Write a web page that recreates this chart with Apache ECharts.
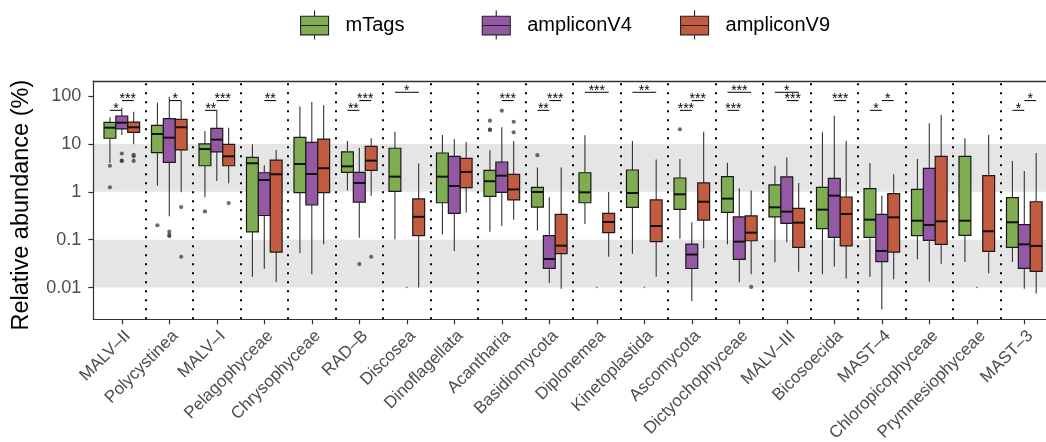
<!DOCTYPE html>
<html><head><meta charset="utf-8">
<script src="https://cdn.jsdelivr.net/npm/echarts@6/dist/echarts.min.js"></script>
<style>html,body{margin:0;padding:0;background:#fff}#c{width:1046px;height:442px}</style>
</head><body><div id="c"></div>
<script>
const categories = ['MALV–II','Polycystinea','MALV–I','Pelagophyceae','Chrysophyceae','RAD–B','Discosea','Dinoflagellata','Acantharia','Basidiomycota','Diplonemea','Kinetoplastida','Ascomycota','Dictyochophyceae','MALV–III','Bicosoecida','MAST–4','Chloropicophyceae','Prymnesiophyceae','MAST–3'];
const seriesNames = ['mTags','ampliconV4','ampliconV9'];
const seriesColors = ['#80ad52','#9558a5','#c25b3f'];
// [lower whisker, Q1, median, Q3, upper whisker] in %
const mTags = [
 [4.0,13.1,21.8,28.2,35.9],[1.34,6.56,16.1,24.4,72.6],[0.77,3.5,7.8,10,18.6],[0.0169,0.145,3.94,5.25,9.8],
 [0.052,0.96,3.8,13.7,60],[1.06,2.55,3.4,6.8,11.5],[0.102,1.02,2.07,8.1,18],[0.129,0.59,2.07,6.45,15.4],
 [0.147,0.80,1.66,2.8,7.35],[0.155,0.48,0.99,1.24,3.2],[0.213,0.59,0.975,2.5,15.1],[0.051,0.474,0.944,2.85,11.5],
 [0.105,0.43,0.885,1.94,4.84],[0.08,0.37,0.72,2.07,4.05],[0.0336,0.298,0.474,1.39,3.5],[0.0189,0.17,0.424,1.24,17.4],
 [0.0169,0.112,0.262,1.16,4.0],[0.0389,0.121,0.249,1.12,4.84],[0.0342,0.123,0.249,5.5,13.1],[0.0342,0.069,0.231,0.755,4.4]
];
const ampliconV4 = [
 [15.4,20.5,27.7,38.2,57],[0.31,4.12,13.5,33.6,96],[1.68,6.8,12.3,21.1,51],[0.0248,0.32,1.76,2.5,3.6],
 [0.0189,0.53,2.35,10.8,75],[0.11,0.61,1.53,2.55,8.3],null,[0.058,0.355,1.32,5.5,12.5],
 [0.193,0.975,2.17,4.19,22.2],[0.0125,0.0252,0.0395,0.121,0.77],null,null,
 [0.0052,0.025,0.049,0.081,0.23],[0.0129,0.0389,0.091,0.298,1.18],[0.088,0.22,0.385,2.04,5.2],[0.0274,0.112,0.83,1.91,38.8],
 [0.0035,0.0348,0.058,0.339,0.83],[0.0133,0.097,0.203,3.09,26.9],null,[0.0095,0.0252,0.08,0.206,2.72]
];
const ampliconV9 = [
 [9.8,17.4,22.2,28.6,47],[0.975,7.47,22.2,32.6,80],[1.5,3.5,5.5,9.8,21.8],[0.0131,0.055,2.32,4.6,7.5],
 [0.08,0.96,3.1,12.6,64],[0.83,2.8,4.47,8.9,13.1],[0.01,0.121,0.30,0.71,3.9],[0.37,1.22,2.6,5.0,11],
 [0.262,0.675,1.12,2.32,11.5],[0.0095,0.051,0.075,0.339,3.2],[0.044,0.14,0.234,0.355,0.99],[0.0169,0.091,0.193,0.675,4.7],
 [0.066,0.257,0.62,1.53,18],[0.0189,0.095,0.14,0.313,1.07],[0.0215,0.069,0.227,0.452,1.53],[0.0154,0.074,0.344,0.778,11.7],
 [0.0149,0.055,0.293,0.914,2.32],[0.0316,0.08,0.242,5.5,40],[0.0199,0.057,0.15,2.17,15.4],[0.0075,0.0219,0.074,0.62,6.45]
];
// outliers: [category index, value %]
const outliersMTags = [[0,3.5],[0,1.24],[1,0.2],[2,0.39],[8,30.5],[8,19.8],[8,19.6],[9,5.8],[12,20.1]];
const outliersV4 = [[0,6.3],[0,4.4],[0,4.5],[1,0.147],[1,0.119],[1,0.126],[5,0.031],[8,49.4]];
const outliersV9 = [[0,5.9],[0,5.5],[0,4.4],[1,0.48],[1,0.044],[2,0.58],[5,0.044],[8,29],[8,17.4],[13,0.0103]];
const tracesV4 = [[6,0.0101],[10,0.0101],[11,0.0101],[18,0.0101]];
// significance: [category, group from, group to, level index, label]
const signif = [
 [0,0,1,0,'*'],[0,1,2,1,'***'],[1,1,2,1,'*'],[2,0,1,0,'**'],[2,1,2,1,'***'],[3,1,2,1,'**'],
 [5,0,1,0,'**'],[5,1,2,1,'***'],[6,0,2,2,'*'],[8,1,2,1,'***'],[9,0,1,0,'**'],[9,1,2,1,'***'],
 [10,0,2,2,'***'],[11,0,2,2,'**'],[12,0,1,0,'***'],[12,1,2,1,'***'],[13,0,1,0,'***'],[13,0,2,2,'***'],
 [14,0,2,2,'*'],[14,1,2,1,'***'],[15,1,2,1,'***'],[16,0,1,0,'*'],[16,1,2,1,'*'],[19,0,1,0,'*'],[19,1,2,1,'*']
];
const bracketLevels = [50.2, 80.1, 119.5];
const yTickValues = [0.01,0.1,1,10,100];
const yTickLabels = ['0.01','0.1','1','10','100'];
const bands = [[0.01,0.1],[1,10]];
const yRange = [0.002177, 205.6];

const L = v => Math.log10(v);
const FONT = '"Liberation Sans", Arial, Helvetica, sans-serif';

function boxSeries(g, data) {
  const color = seriesColors[g];
  return {
    type: 'custom', name: seriesNames[g], z: 3,
    itemStyle: { color: color },
    encode: { x: 0, y: [1,2,3,4,5] },
    data: data.map((d, i) => d ? [i].concat(d.map(L)) : null).filter(Boolean),
    renderItem: function (params, api) {
      const x = api.value(0) + (g - 1) * 0.25;
      const pLo = api.coord([x, api.value(1)]);
      const q1 = api.coord([x, api.value(2)])[1];
      const med = api.coord([x, api.value(3)])[1];
      const q3 = api.coord([x, api.value(4)])[1];
      const hi = api.coord([x, api.value(5)])[1];
      const w = api.size([0.25, 0])[0];
      const cx = pLo[0], lo = pLo[1], left = cx - w / 2;
      return { type: 'group', children: [
        { type: 'line', shape: { x1: cx, y1: hi, x2: cx, y2: q3 }, style: { stroke: '#333', lineWidth: 1.1 } },
        { type: 'line', shape: { x1: cx, y1: q1, x2: cx, y2: lo }, style: { stroke: '#333', lineWidth: 1.1 } },
        { type: 'rect', shape: { x: left, y: q3, width: w, height: q1 - q3 }, style: { fill: color, stroke: '#1a1a1a', lineWidth: 1.2 } },
        { type: 'line', shape: { x1: left, y1: med, x2: left + w, y2: med }, style: { stroke: '#111', lineWidth: 2 } }
      ]};
    }
  };
}
function outlierSeries(g, pts) {
  return {
    type: 'scatter', z: 4, silent: true, symbolSize: 4.2,
    itemStyle: { color: '#3a3a3a', opacity: 0.75 },
    data: pts.map(p => [p[0] + (g - 1) * 0.25, L(p[1])])
  };
}

const series = [
  boxSeries(0, mTags), boxSeries(1, ampliconV4), boxSeries(2, ampliconV9),
  outlierSeries(0, outliersMTags), outlierSeries(1, outliersV4), outlierSeries(2, outliersV9),
  { type: 'scatter', z: 4, silent: true, symbol: 'rect', symbolSize: [2, 1.5], itemStyle: { color: '#777' },
    data: tracesV4.map(p => [p[0], L(p[1])]) },
  { type: 'custom', z: 5, silent: true,
    data: signif.map(s => [s[0], s[1], s[2], L(bracketLevels[s[3]])]),
    renderItem: function (params, api) {
      const s = signif[params.dataIndex];
      const lv = api.value(3);
      const a = api.coord([api.value(0) + (api.value(1) - 1) * 0.25, lv]);
      const b = api.coord([api.value(0) + (api.value(2) - 1) * 0.25, lv]);
      return { type: 'group', children: [
        { type: 'line', shape: { x1: a[0], y1: a[1], x2: b[0], y2: a[1] }, style: { stroke: '#000', lineWidth: 1 } },
        { type: 'text', x: (a[0] + b[0]) / 2, y: a[1] - 1,
          style: { text: s[4], fill: '#000', font: '14px ' + FONT, textAlign: 'center', textVerticalAlign: 'middle', align: 'center', verticalAlign: 'middle' } }
      ]};
    },
    markArea: { silent: true, z: 1, itemStyle: { color: '#e5e5e5' },
      data: bands.map(b => [{ yAxis: L(b[0]) }, { yAxis: L(b[1]) }]) },
    markLine: { silent: true, symbol: ['none', 'none'], label: { show: false }, z: 2,
      lineStyle: { color: '#000', width: 2, type: [2, 7] },
      emphasis: { disabled: true },
      data: categories.slice(1).map((c, i) => ({ xAxis: i + 0.5 })) }
  }
];

const legendIcon = 'path://M0,5.7L28,5.7L28,24.3L0,24.3Z M0,15L28,15 M14,0L14,5.7 M14,24.3L14,29';
const legendLefts = [300, 481.7, 680];
const legend = seriesNames.map((n, i) => ({
  left: legendLefts[i], top: 10, padding: 0, itemWidth: 28, itemHeight: 29,
  selectedMode: false,
  data: [{ name: n, icon: legendIcon }],
  itemStyle: { borderColor: '#222', borderWidth: 1.1 },
  textStyle: { fontSize: 20, color: '#000', fontFamily: FONT, padding: [0, 0, 0, 12] }
}));

const xMin = -0.6, xMax = categories.length - 0.4;
const chart = echarts.init(document.getElementById('c'), null, { renderer: 'canvas' });
chart.setOption({
  animation: false,
  backgroundColor: '#fff',
  textStyle: { fontFamily: FONT },
  legend: legend,
  grid: { left: 93.3, top: 81, width: 959.5, height: 238.3, show: false, containLabel: false, outerBoundsMode: 'none' },
  xAxis: [{
    type: 'value', min: xMin, max: xMax, z: 10,
    axisLine: { show: true, onZero: false, lineStyle: { color: '#333', width: 1.2 } },
    axisTick: { show: true, customValues: categories.map((c, i) => i), length: 5, lineStyle: { color: '#333', width: 1.2 } },
    axisLabel: { customValues: categories.map((c, i) => i), formatter: v => categories[Math.round(v)],
      rotate: 45, fontSize: 17, color: '#4d4d4d', margin: 8, verticalAlign: 'top', fontFamily: FONT },
    splitLine: { show: false }
  }, {
    type: 'value', position: 'top', min: xMin, max: xMax, z: 10,
    axisLine: { show: true, onZero: false, lineStyle: { color: '#333', width: 1.4 } },
    axisTick: { show: false }, axisLabel: { show: false }, splitLine: { show: false }
  }],
  yAxis: {
    type: 'value', min: L(yRange[0]), max: L(yRange[1]), z: 10,
    name: 'Relative abundance (%)', nameLocation: 'middle', nameRotate: 90, nameGap: 60,
    nameTextStyle: { fontSize: 23.5, color: '#000', fontFamily: FONT, padding: [0, 10, 0, 0] },
    axisLine: { show: true, onZero: false, lineStyle: { color: '#333', width: 1.2 } },
    axisTick: { show: true, customValues: yTickValues.map(L), length: 5, lineStyle: { color: '#333', width: 1.2 } },
    axisLabel: { customValues: yTickValues.map(L), formatter: v => yTickLabels[yTickValues.map(L).findIndex(t => Math.abs(t - v) < 1e-6)],
      fontSize: 18, color: '#4d4d4d', margin: 12, fontFamily: FONT },
    splitLine: { show: false }
  },
  series: series
});
</script></body></html>
